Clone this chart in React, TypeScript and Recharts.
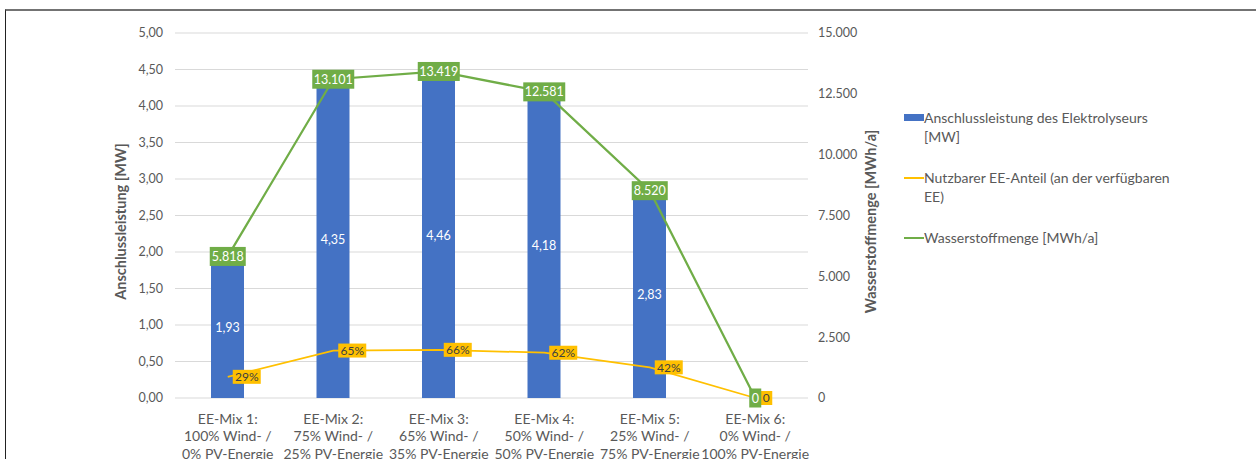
import { ComposedChart, Bar, Line, XAxis, YAxis, CartesianGrid, LabelList } from 'recharts';

// EE mixes (wind / PV split), one per category
const categories = [
  'EE-Mix 1:\n100% Wind- /\n0% PV-Energie',
  'EE-Mix 2:\n75% Wind- /\n25% PV-Energie',
  'EE-Mix 3:\n65% Wind- /\n35% PV-Energie',
  'EE-Mix 4:\n50% Wind- /\n50% PV-Energie',
  'EE-Mix 5:\n25% Wind- /\n75% PV-Energie',
  'EE-Mix 6:\n0% Wind- /\n100% PV-Energie',
];

const capacityMW = [1.93, 4.35, 4.46, 4.18, 2.83, 0];
const usableSharePct = [29, 65, 66, 62, 42, 0];
const hydrogenMWh = [5818, 13101, 13419, 12581, 8520, 0];

const leftTicks = [0, 0.5, 1, 1.5, 2, 2.5, 3, 3.5, 4, 4.5, 5];
const rightTicks = [0, 2500, 5000, 7500, 10000, 12500, 15000];

const seriesNames = [
  'Anschlussleistung des Elektrolyseurs [MW]',
  'Nutzbarer EE-Anteil (an der verfügbaren EE)',
  'Wasserstoffmenge [MWh/a]',
];

const BLUE = '#4472c4';
const ORANGE = '#ffc000';
const GREEN = '#70ad47';
const TEXT = '#595959';
const FONT = 'Lato, "Open Sans", sans-serif';

const data = categories.map((name, i) => ({
  name,
  capacity: capacityMW[i],
  share: usableSharePct[i] / 100,
  sharePct: usableSharePct[i],
  hydrogen: hydrogenMWh[i],
}));

const thousands = (v: number) => String(v).replace(/\B(?=(\d{3})+(?!\d))/g, '.');
const decimal = (v: number) => v.toFixed(2).replace('.', ',');

// y arrives already shifted by tickSize + tickMargin (8px below the axis)
function CategoryTick(props: any) {
  const { x, y, payload } = props;
  const lines = String(payload.value).split('\n');
  return (
    <text x={x} y={y} textAnchor="middle" fill={TEXT} fontSize={14} fontFamily={FONT}>
      {lines.map((l, i) => (
        <tspan key={i} x={x} y={y + 17.5 + i * 17.8}>{l}</tspan>
      ))}
    </text>
  );
}

function GreenTag(props: any) {
  const { x, y, value } = props;
  const text = thousands(value);
  const w = text.length * 6 + 6;
  return (
    <g>
      <rect x={x - w / 2} y={y - 9.5} width={w} height={19} fill={GREEN} />
      <text x={x} y={y} dy="0.36em" textAnchor="middle" fill="#fff" fontSize={12.5} fontFamily={FONT}>{text}</text>
    </g>
  );
}

function OrangeTag(props: any) {
  const { x, y, value } = props;
  const text = value === 0 ? '0' : `${value}%`;
  const w = text.length * 8 + 4;
  return (
    <g>
      <rect x={x + 5} y={y - 7} width={w} height={14} fill={ORANGE} />
      <text x={x + 5 + w / 2} y={y} dy="0.36em" textAnchor="middle" fill="#404040" fontSize={12} fontFamily={FONT}>{text}</text>
    </g>
  );
}

function axisTitle(text: string, cx: number) {
  return (p: any) => {
    const vb = p.viewBox || { y: 33, height: 365 };
    const cy = vb.y + vb.height / 2 + 6;
    return (
      <text
        x={cx}
        y={cy}
        transform={`rotate(-90 ${cx} ${cy})`}
        textAnchor="middle"
        dominantBaseline="central"
        fill={TEXT}
        fontSize={14.5}
        fontWeight="bold"
        fontFamily={FONT}
      >
        {text}
      </text>
    );
  };
}

function LegendBox() {
  const markers = [
    <div style={{ width: 20, height: 7, background: BLUE }} />,
    <div style={{ width: 20, height: 2, background: ORANGE }} />,
    <div style={{ width: 20, height: 2, background: GREEN }} />,
  ];
  const tops = [108, 168, 228];
  return (
    <>
      {seriesNames.map((n, i) => (
        <div key={n} style={{ position: 'absolute', left: 904, top: tops[i], display: 'flex', alignItems: 'flex-start' }}>
          <div style={{ height: 19, display: 'flex', alignItems: 'center' }}>{markers[i]}</div>
          <div style={{ width: 255, fontSize: 14, lineHeight: '19px', color: TEXT, fontFamily: FONT }}>{n}</div>
        </div>
      ))}
    </>
  );
}

export default function App() {
  return (
    <div style={{ position: 'absolute', left: 0, top: 0, width: 1256, height: 459, background: '#fff', overflow: 'hidden' }}>
      <div style={{ position: 'absolute', left: 5, top: 9, right: 0, bottom: 0, borderTop: '2px solid #737373', borderLeft: '1px solid #222' }} />
      <ComposedChart
        width={1256}
        height={459}
        data={data}
        margin={{ top: 33, right: 388, bottom: 0, left: 115 }}
        style={{ position: 'absolute', left: 0, top: 0 }}
      >
        <CartesianGrid yAxisId="left" vertical={false} stroke="#d9d9d9" />
        <XAxis dataKey="name" height={61} axisLine={false} tickLine={false} interval={0} tick={<CategoryTick />} />
        <YAxis
          yAxisId="left"
          width={60}
          domain={[0, 5]}
          ticks={leftTicks}
          axisLine={false}
          tickLine={false}
          tickMargin={6}
          tickFormatter={decimal}
          tick={{ fill: TEXT, fontSize: 12.5, fontFamily: FONT }}
          label={{ content: axisTitle('Anschlussleistung [MW]', 120) }}
        />
        <YAxis
          yAxisId="right"
          orientation="right"
          width={60}
          domain={[0, 15000]}
          ticks={rightTicks}
          axisLine={false}
          tickLine={false}
          tickMargin={4}
          tickFormatter={thousands}
          tick={{ fill: TEXT, fontSize: 12.5, fontFamily: FONT, textAnchor: 'start' }}
          label={{ content: axisTitle('Wasserstoffmenge [MWh/a]', 870) }}
        />
        <Bar yAxisId="left" dataKey="capacity" fill={BLUE} barSize={33} isAnimationActive={false}>
          <LabelList
            dataKey="capacity"
            position="center"
            fill="#fff"
            fontSize={12.5}
            fontFamily={FONT}
            formatter={(v: any) => (v ? decimal(Number(v)) : '')}
          />
        </Bar>
        <Line yAxisId="left" dataKey="share" stroke={ORANGE} strokeWidth={1.75} dot={false} isAnimationActive={false}>
          <LabelList dataKey="sharePct" content={<OrangeTag />} />
        </Line>
        <Line yAxisId="right" dataKey="hydrogen" stroke={GREEN} strokeWidth={2.25} dot={false} isAnimationActive={false}>
          <LabelList dataKey="hydrogen" content={<GreenTag />} />
        </Line>
      </ComposedChart>
      <LegendBox />
    </div>
  );
}
